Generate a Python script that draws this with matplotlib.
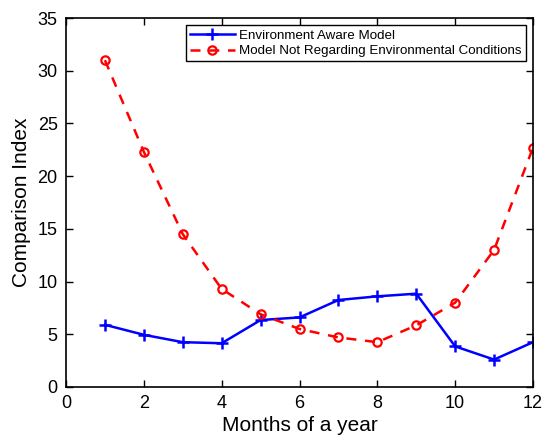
import matplotlib
matplotlib.use("Agg")
import matplotlib.pyplot as plt

# monthly comparison index for the two models
months = [1, 2, 3, 4, 5, 6, 7, 8, 9, 10, 11, 12]
env_aware = [5.9, 4.95, 4.25, 4.15, 6.35, 6.6, 8.25, 8.6, 8.85, 3.85, 2.6, 4.25]
no_env = [31.0, 22.3, 14.5, 9.3, 6.9, 5.5, 4.7, 4.25, 5.85, 8.0, 13.0, 22.7]

plt.rcParams['font.family'] = ['Liberation Sans', 'DejaVu Sans']

fig = plt.figure(figsize=(5.47, 4.36), dpi=100)
ax = fig.add_axes([0.1207, 0.1124, 0.8537, 0.8463])

ax.plot(months, env_aware, 'b-+', lw=1.8, ms=8, mew=1.8,
        label='Environment Aware Model')
ax.plot(months, no_env, 'r--o', lw=1.8, ms=6, mew=1.6, mfc='none',
        dashes=(4, 3.5), label='Model Not Regarding Environmental Conditions')

ax.set_xlim(0, 12)
ax.set_ylim(0, 35)
ax.set_xticks(range(0, 13, 2))
ax.set_yticks(range(0, 36, 5))
ax.tick_params(direction='in', top=True, right=True, labelsize=13,
               length=5, width=1, pad=6)
for s in ax.spines.values():
    s.set_linewidth(1.2)

ax.set_xlabel('Months of a year', fontsize=15, labelpad=3)
ax.set_ylabel('Comparison Index', fontsize=15, labelpad=5)

leg = ax.legend(loc='upper right', fontsize=9.6, fancybox=False, framealpha=1,
                edgecolor='black', borderpad=0.3, handlelength=3.4,
                labelspacing=0.25, borderaxespad=0.55, handletextpad=0.3)
leg.get_frame().set_linewidth(1.0)

fig.savefig('out.png', dpi=100)
